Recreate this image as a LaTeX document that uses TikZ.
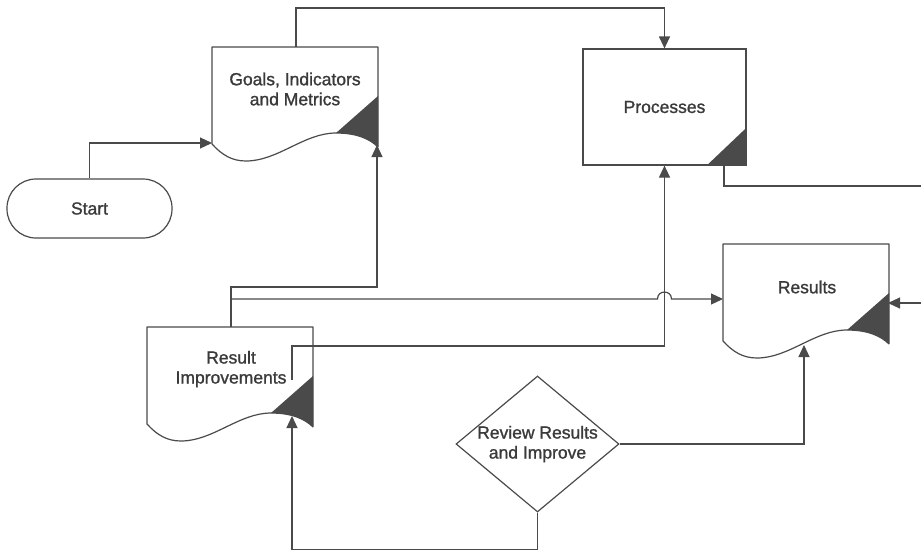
\documentclass[tikz,border=0pt]{standalone}
\usepackage{fontspec}
\setmainfont{Liberation Sans}
\newfontfamily\lblfont{Liberation Sans}[FakeBold=1.2]
\usetikzlibrary{arrows.meta,shapes.geometric}
\definecolor{ink}{HTML}{4A4A4A}
\definecolor{txtc}{HTML}{3A3A3A}
\begin{document}
\begin{tikzpicture}[x=1pt,y=-1pt,
  ln/.style={draw=ink,line width=1.2pt},
  arr/.style={ln,-{Triangle[length=12pt,width=11pt]},fill=none},
  tri/.style={fill=ink},
  lbl/.style={text=txtc,font=\lblfont\fontsize{17.5}{20}\selectfont,align=center,inner sep=0pt},
  pics/docshape/.style={code={
    \fill[tri] (124,86) -- (166,49) -- (166,100) .. controls (158,92) and (145,86) .. (124,86) -- cycle;
    \draw[ln,line join=round] (166,100) -- (166,0) -- (0,0) -- (0,97)
      .. controls (10,108) and (20,114) .. (34,114)
      .. controls (66,114) and (92,86) .. (124,86)
      .. controls (145,86) and (158,92) .. (166,100);
  }}
]
\useasboundingbox (0,0) rectangle (921,552);

% terminal
\node[ln,lbl,rounded corners=29pt,minimum width=165pt,minimum height=59pt] (start) at (89.5,208.5) {Start};

% document shapes
\pic at (212,47) {docshape};
\node[lbl] (goals) at (295,89) {Goals, Indicators\\and Metrics};
\pic at (723,244) {docshape};
\node[lbl] (results) at (807,287) {Results};
\pic at (147,327) {docshape};
\node[lbl] (resimp) at (231,369) {Result\\Improvements};

% process box
\node[ln,lbl,minimum width=163pt,minimum height=116pt] (proc) at (664.5,107) {Processes};
\fill[tri] (proc.south east) -- ++(0,-38) -- ++(-40,38) -- cycle;

% decision
\node[ln,diamond,minimum width=163pt,minimum height=136pt,inner sep=0pt] (rev) at (537.5,444) {};
\node[lbl] (revtxt) at (rev.center) {Review Results\\and Improve};

% connection points
\coordinate (gIn) at (212,143);
\coordinate (gTop) at (296,47);
\coordinate (gBot) at (377,145);
\coordinate (pOut) at (724,165);
\coordinate (rIn) at (888,303);
\coordinate (rLeft) at (723,299);
\coordinate (rBot) at (804,345);
\coordinate (riTop) at (231,327);
\coordinate (br) at (231,299);
\coordinate (riOut) at (292,380);
\coordinate (riBot) at (292,416);

% connectors
\draw[arr] (start.north) |- (gIn);
\draw[arr] (gTop) -- ++(0,-39) -| (proc.north);
\draw[arr] (pOut) -- ++(0,21) -- ++(216,0) |- (rIn);
\draw[arr] (riTop) -- ++(0,-40) -| (gBot);
\draw[arr] (br) -- (657.5,299) .. controls (657.5,289.7) and (671.5,289.7) .. (671.5,299) -- (rLeft);
\draw[arr] (riOut) -- ++(0,-34) -| (proc.south);
\draw[arr] (rev.east) -| (rBot);
\draw[arr] (rev.south) -- ++(0,37) -| (riBot);
\end{tikzpicture}
\end{document}
